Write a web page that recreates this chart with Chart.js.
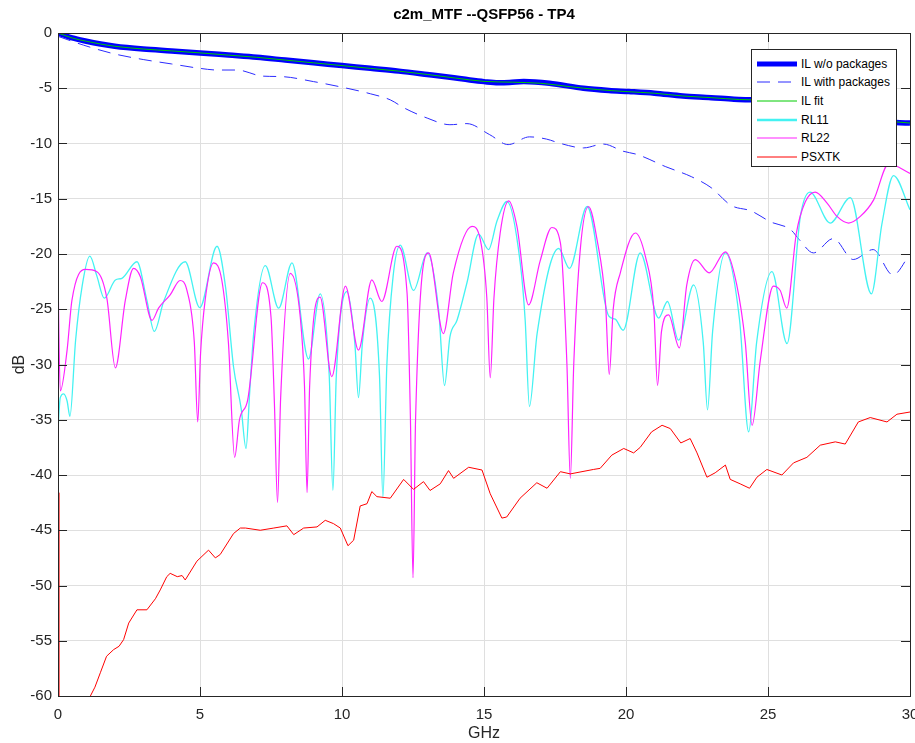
<!DOCTYPE html>
<html>
<head>
<meta charset="utf-8">
<script src="https://cdn.jsdelivr.net/npm/chart.js@4.4.1/dist/chart.umd.min.js"></script>
<style>
html, body { margin: 0; padding: 0; overflow: hidden; background: #fff; }
#wrap { position: relative; width: 915px; height: 743px; }
#legend {
  position: absolute; left: 751px; top: 49px; width: 146px; height: 118px;
  box-sizing: border-box; border: 1px solid #262626; background: #fff;
  font: 12px "Liberation Sans", Arial, sans-serif; color: #000;
}
#legend .row { position: absolute; left: 0; width: 144px; height: 18px; line-height: 18px; }
#legend .row svg { position: absolute; left: 4px; top: 0; }
#legend .row span { position: absolute; left: 49px; white-space: nowrap; }
</style>
</head>
<body>
<div id="wrap">
  <canvas id="chart" width="915" height="743"></canvas>
  <div id="legend"></div>
</div>
<script>
// axis ticks
var xTicks = [0, 5, 10, 15, 20, 25, 30];
var yTicks = [-60, -55, -50, -45, -40, -35, -30, -25, -20, -15, -10, -5, 0];

// IL w/o packages
var ilFreq = [0, 0.5, 1, 1.5, 2, 3, 4, 5, 6, 7, 8, 9, 10, 11, 12, 13, 13.8, 14.5, 15, 15.5, 15.9, 16.4, 17.3, 18.5, 19.4, 20.1, 21, 22, 23, 23.8, 24.4, 25, 26, 27, 28, 29, 29.5, 30];
var ilDb   = [0, -0.45, -0.75, -1.0, -1.2, -1.45, -1.62, -1.8, -2.0, -2.2, -2.45, -2.7, -2.95, -3.2, -3.45, -3.75, -4.0, -4.25, -4.4, -4.5, -4.48, -4.4, -4.55, -5.0, -5.2, -5.3, -5.45, -5.7, -5.85, -6.0, -6.05, -6.1, -6.4, -6.9, -7.4, -7.9, -8.1, -8.15];

// IL with packages
var ilPkgFreq = [0, 0.9, 2, 3, 4, 5, 5.6, 6.3, 7.2, 7.9, 9, 9.9, 11, 11.7, 12.2, 13, 13.8, 14.4, 15.2, 15.85, 16.6, 17.2, 17.7, 18.5, 19.2, 19.9, 20.4, 21.4, 22.3, 23, 23.7, 24.4, 25.1, 25.8, 26.1, 26.6, 27.3, 28, 28.7, 29.4, 30];
var ilPkgDb   = [-0.3, -1.1, -1.9, -2.4, -2.8, -3.2, -3.35, -3.35, -3.9, -3.95, -4.4, -4.85, -5.5, -6.05, -6.8, -7.7, -8.3, -8.2, -9.2, -10.1, -9.4, -9.6, -10.0, -10.4, -10.05, -10.7, -11.0, -12.1, -13.0, -14.0, -15.6, -16.1, -17.1, -17.8, -18.7, -19.9, -18.6, -20.5, -19.6, -21.9, -20.0];

// IL fit
var fitFreq = [0, 0.5, 1, 1.5, 2, 3, 4, 5, 6, 7, 8, 9, 10, 11, 12, 13, 14, 15, 16, 17, 18, 19, 20, 21, 22, 23, 24, 25, 26, 27, 28, 29, 30];
var fitDb   = [0, -0.45, -0.75, -1.0, -1.2, -1.45, -1.62, -1.8, -2.0, -2.2, -2.45, -2.7, -2.95, -3.2, -3.45, -3.75, -4.08, -4.38, -4.45, -4.55, -4.85, -5.12, -5.3, -5.45, -5.7, -5.85, -6.02, -6.1, -6.4, -6.9, -7.4, -7.9, -8.15];

// RL11
var rl11Freq = [0, 0.08, 0.2, 0.32, 0.42, 0.62, 0.85, 1.12, 1.37, 1.63, 2.02, 2.25, 2.78, 3.13, 3.39, 3.72, 4.48, 4.99, 5.6, 5.9, 6.18, 6.45, 6.62, 6.75, 6.89, 7.3, 7.77, 8.24, 8.82, 9.23, 9.55, 9.68, 9.8, 10.17, 10.45, 10.58, 10.72, 10.99, 11.32, 11.44, 11.58, 11.8, 12.05, 12.52, 13.0, 13.4, 13.61, 13.8, 14.05, 14.4, 14.81, 15.16, 15.46, 15.81, 16.28, 16.45, 16.6, 16.87, 17.63, 18.01, 18.63, 19.39, 19.62, 19.9, 20.5, 21.15, 21.46, 21.85, 22.38, 22.72, 22.87, 23.05, 23.5, 24.0, 24.32, 24.6, 25.14, 25.67, 26.14, 26.48, 27.19, 27.9, 28.64, 29.01, 29.42, 30];
var rl11Db   = [-35.9, -33.0, -32.65, -33.3, -34.7, -27.8, -22.9, -20.2, -22.0, -24.0, -22.35, -22.2, -20.7, -24.2, -27.0, -24.3, -20.7, -24.85, -19.3, -23.0, -30.2, -34.0, -37.6, -32.5, -27.2, -21.05, -24.9, -20.8, -29.5, -23.6, -31.0, -41.4, -31.0, -23.4, -28.0, -33.0, -28.0, -24.0, -31.0, -42.0, -30.0, -22.0, -19.2, -23.3, -19.9, -25.0, -31.9, -27.5, -26.0, -22.6, -18.2, -19.6, -17.0, -15.25, -20.9, -26.0, -33.8, -27.2, -19.5, -21.3, -15.7, -25.6, -25.9, -26.9, -19.9, -25.8, -24.3, -27.8, -22.8, -28.0, -34.1, -27.0, -19.9, -26.0, -36.1, -28.0, -21.6, -28.1, -16.6, -14.4, -17.2, -14.9, -23.6, -17.3, -12.9, -16.0];

// RL22
var rl22Freq = [0, 0.08, 0.32, 0.49, 0.96, 1.37, 1.72, 2.02, 2.37, 2.66, 2.9, 3.31, 3.54, 3.95, 4.3, 4.54, 4.8, 4.92, 5.02, 5.18, 5.48, 5.77, 6.0, 6.22, 6.39, 6.68, 7.2, 7.5, 7.62, 7.73, 7.84, 8.18, 8.53, 8.68, 8.77, 8.86, 9.23, 9.64, 10.12, 10.58, 11.05, 11.4, 11.93, 12.29, 12.41, 12.5, 12.59, 13.05, 13.57, 13.92, 14.58, 14.87, 15.1, 15.22, 15.35, 15.57, 15.87, 16.16, 16.57, 16.98, 17.39, 17.69, 17.92, 18.04, 18.16, 18.39, 18.68, 18.98, 19.28, 19.41, 19.55, 19.8, 20.33, 20.68, 20.98, 21.11, 21.25, 21.5, 21.88, 22.14, 22.44, 22.93, 23.5, 23.9, 24.2, 24.44, 24.73, 25.19, 25.43, 25.66, 26.0, 26.31, 26.66, 27.08, 27.43, 27.84, 28.25, 28.72, 29.25, 30];
var rl22Db   = [-22.0, -32.4, -28.7, -24.2, -21.4, -21.6, -24.0, -30.3, -24.2, -21.3, -22.05, -26.0, -24.9, -23.7, -22.4, -23.3, -28.0, -35.2, -29.0, -24.2, -20.8, -22.4, -28.0, -38.4, -35.0, -33.2, -22.6, -25.7, -33.5, -42.5, -33.0, -21.75, -25.7, -32.0, -41.6, -32.0, -23.9, -31.1, -22.9, -28.7, -22.35, -24.3, -19.3, -23.5, -35.0, -49.3, -35.0, -19.9, -27.2, -21.7, -17.5, -18.7, -24.0, -31.2, -24.0, -18.1, -15.2, -17.5, -24.6, -20.6, -17.6, -19.0, -30.0, -40.3, -30.0, -19.6, -15.7, -18.7, -24.5, -30.9, -25.0, -21.7, -18.1, -20.2, -25.0, -31.9, -27.0, -25.5, -28.5, -22.8, -20.5, -21.7, -19.8, -22.8, -28.0, -35.5, -29.6, -22.9, -23.3, -24.9, -18.1, -15.3, -14.4, -15.4, -16.6, -17.2, -16.6, -15.1, -11.85, -12.7];

// PSXTK
var xtkFreq = [0, 0.03, 0.6, 1.0, 1.14, 1.3, 1.49, 1.71, 1.96, 2.15, 2.31, 2.49, 2.78, 3.13, 3.43, 3.6, 3.83, 3.95, 4.2, 4.37, 4.48, 4.89, 5.3, 5.54, 5.71, 6.18, 6.42, 6.6, 7.12, 7.6, 8.06, 8.3, 8.65, 9.12, 9.41, 9.7, 9.94, 10.21, 10.41, 10.64, 10.88, 11.05, 11.23, 11.7, 12.17, 12.52, 12.87, 13.1, 13.46, 13.75, 13.93, 14.46, 14.93, 15.22, 15.63, 15.8, 16.27, 16.86, 17.22, 17.69, 18.04, 18.85, 19.09, 19.5, 19.92, 20.27, 20.5, 20.9, 21.27, 21.56, 21.93, 22.26, 22.5, 22.85, 23.14, 23.5, 23.67, 24.02, 24.35, 24.61, 24.96, 25.49, 25.9, 26.37, 26.84, 27.37, 27.72, 28.18, 28.6, 29.19, 29.54, 30];
var xtkDb   = [-41.6, -75, -70, -63, -60, -59.2, -57.9, -56.4, -55.8, -55.5, -54.9, -53.4, -52.2, -52.2, -51.2, -50.4, -49.2, -48.9, -49.2, -49.1, -49.5, -47.8, -46.8, -47.5, -47.2, -45.3, -44.8, -44.8, -45.0, -44.8, -44.6, -45.4, -44.8, -44.7, -44.1, -44.4, -44.8, -46.4, -45.9, -42.8, -42.6, -41.5, -41.96, -42.1, -40.4, -41.3, -40.6, -41.4, -40.8, -39.6, -40.3, -39.3, -39.55, -41.7, -43.9, -43.8, -42.1, -40.7, -41.2, -39.7, -39.9, -39.5, -39.4, -38.2, -37.6, -38.0, -37.5, -36.1, -35.5, -35.8, -37.1, -36.7, -38.0, -40.2, -39.8, -39.1, -40.4, -40.8, -41.2, -40.2, -39.5, -40.0, -38.9, -38.4, -37.3, -37.0, -37.2, -35.2, -34.8, -35.2, -34.5, -34.3];

function pts(xs, ys) {
  return xs.map(function (x, i) { return { x: x, y: ys[i] }; });
}

var series = [
  { label: 'IL w/o packages', data: pts(ilFreq, ilDb), color: '#0000ff', width: 5.5, dash: [], legendWidth: 5, order: 6, mono: true },
  { label: 'IL with packages', data: pts(ilPkgFreq, ilPkgDb), color: '#2b2bff', width: 1, dash: [13, 8], legendWidth: 1, order: 5, mono: true },
  { label: 'IL fit', data: pts(fitFreq, fitDb), color: '#00cc00', width: 1, dash: [], legendWidth: 1, order: 4, mono: true },
  { label: 'RL11', data: pts(rl11Freq, rl11Db), color: '#44f2f2', width: 1.3, dash: [], legendWidth: 2.5, order: 3, mono: true },
  { label: 'RL22', data: pts(rl22Freq, rl22Db), color: '#ff22ff', width: 1.2, dash: [], legendWidth: 1.2, order: 2, mono: true },
  { label: 'PSXTK', data: pts(xtkFreq, xtkDb), color: '#ff0000', width: 1, dash: [], legendWidth: 1, order: 1, mono: false }
];

var AXIS = '#262626';
var FONT = '"Liberation Sans", Arial, Helvetica, sans-serif';

// box round the axes and inward tick marks
var boxTicks = {
  id: 'boxTicks',
  afterDraw: function (chart) {
    var a = chart.chartArea, ctx = chart.ctx;
    var xs = chart.scales.x, ys = chart.scales.y;
    var len = 9;
    ctx.save();
    ctx.strokeStyle = AXIS;
    ctx.lineWidth = 1;
    ctx.beginPath();
    xTicks.forEach(function (v) {
      var px = Math.round(xs.getPixelForValue(v)) + 0.5;
      ctx.moveTo(px, a.bottom); ctx.lineTo(px, a.bottom - len);
      ctx.moveTo(px, a.top); ctx.lineTo(px, a.top + len);
    });
    yTicks.forEach(function (v) {
      var py = Math.round(ys.getPixelForValue(v)) + 0.5;
      ctx.moveTo(a.left, py); ctx.lineTo(a.left + len, py);
      ctx.moveTo(a.right, py); ctx.lineTo(a.right - len, py);
    });
    ctx.stroke();
    ctx.strokeRect(Math.round(a.left) + 0.5, Math.round(a.top) + 0.5, Math.round(a.right - a.left), Math.round(a.bottom - a.top));
    ctx.restore();
  }
};

new Chart(document.getElementById('chart'), {
  type: 'line',
  data: {
    datasets: series.map(function (s) {
      return {
        label: s.label,
        data: s.data,
        borderColor: s.color,
        backgroundColor: s.color,
        borderWidth: s.width,
        borderDash: s.dash,
        pointRadius: 0,
        fill: false,
        order: s.order,
        cubicInterpolationMode: s.mono ? 'monotone' : 'default',
        tension: 0
      };
    })
  },
  options: {
    responsive: false,
    animation: false,
    events: [],
    layout: { padding: { left: 0, right: 5, top: 0, bottom: 0 } },
    plugins: {
      legend: { display: false },
      tooltip: { enabled: false },
      title: {
        display: true,
        fullSize: false,
        text: 'c2m_MTF --QSFP56 - TP4',
        color: '#000',
        font: { family: FONT, size: 15, weight: 'bold' },
        padding: { top: 6, bottom: 9 }
      }
    },
    scales: {
      x: {
        type: 'linear',
        min: 0, max: 30,
        afterBuildTicks: function (scale) { scale.ticks = xTicks.map(function (v) { return { value: v }; }); },
        afterFit: function (scale) { scale.height = 47; scale.paddingLeft = 0; scale.paddingRight = 0; },
        ticks: { color: AXIS, font: { family: FONT, size: 15 }, padding: 10, maxRotation: 0, autoSkip: false },
        grid: { color: '#dfdfdf', drawTicks: false },
        border: { color: AXIS, width: 1 },
        title: { display: true, text: 'GHz', color: AXIS, font: { family: FONT, size: 16 }, padding: { top: 0, bottom: 0 } }
      },
      y: {
        type: 'linear',
        min: -60, max: 0,
        afterBuildTicks: function (scale) { scale.ticks = yTicks.map(function (v) { return { value: v }; }); },
        afterFit: function (scale) { scale.width = 58; },
        ticks: { color: AXIS, font: { family: FONT, size: 15 }, padding: 6, autoSkip: false },
        grid: { color: '#dfdfdf', drawTicks: false },
        border: { color: AXIS, width: 1 },
        title: { display: true, text: 'dB', color: AXIS, font: { family: FONT, size: 16 }, padding: { top: 10, bottom: 0 } }
      }
    }
  },
  plugins: [boxTicks]
});

// legend box inside the axes
var legend = document.getElementById('legend');
series.forEach(function (s, i) {
  var row = document.createElement('div');
  row.className = 'row';
  row.style.top = (4.5 + i * 18.7) + 'px';
  var dash = s.dash.length ? ' stroke-dasharray="' + s.dash.join(' ') + '"' : '';
  row.innerHTML = '<svg width="42" height="18"><line x1="1" y1="9" x2="41" y2="9" stroke="' + s.color +
    '" stroke-width="' + s.legendWidth + '"' + dash + '/></svg><span>' + s.label + '</span>';
  legend.appendChild(row);
});
</script>
</body>
</html>
